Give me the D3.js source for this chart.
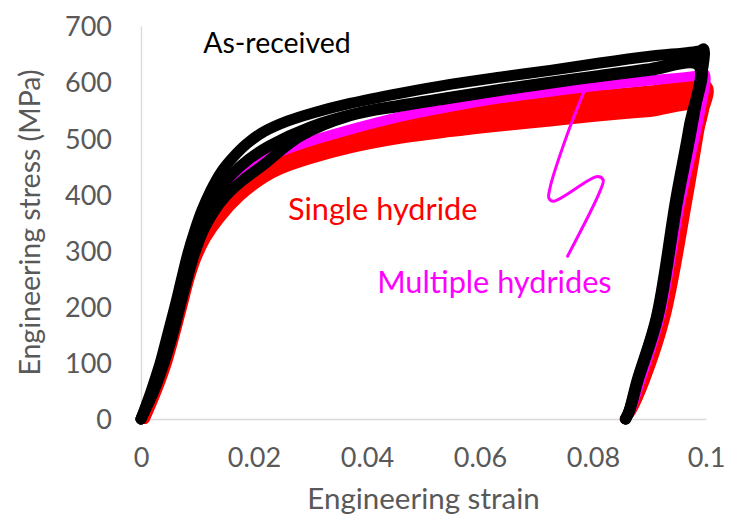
<!DOCTYPE html>
<html>
<head>
<meta charset="utf-8">
<script src="https://cdn.jsdelivr.net/npm/d3@7"></script>
<style>
  body { margin: 0; background: #fff; }
  text { font-family: Lato, "Open Sans", sans-serif; }
</style>
</head>
<body>
<div id="chart"></div>
<script>
// Tick values / labels
const xTicks = [0, 0.02, 0.04, 0.06, 0.08, 0.1];
const xTickLabels = ['0', '0.02', '0.04', '0.06', '0.08', '0.1'];
const yTicks = [0, 100, 200, 300, 400, 500, 600, 700];

// Curves: [engineering strain, engineering stress (MPa)], loading then unloading
const asReceived1 = [[0,0],[0.0018,50],[0.0034,100],[0.0047,150],[0.0060,200],[0.0072,250],[0.0083,295],
  [0.0095,335],[0.0108,372],[0.0124,408],[0.0142,440],[0.0162,465],[0.0187,490],[0.0218,512],[0.0260,531],
  [0.0304,545],[0.0370,562],[0.0458,580],[0.0547,596],[0.0635,609],[0.0724,621],[0.0812,634],[0.0901,646],
  [0.0989,656],[0.0996,659],[0.0977,531],[0.0950,389],[0.0915,181],[0.0880,69],[0.0865,15],[0.0858,0]];
const asReceived2 = [[0,0],[0.0020,50],[0.0037,100],[0.0051,150],[0.0064,200],[0.0077,250],[0.0089,295],
  [0.0102,335],[0.0117,372],[0.0136,405],[0.0160,435],[0.0190,462],[0.0228,487],[0.0299,520],[0.0388,546],
  [0.0458,559],[0.0547,573],[0.0635,587],[0.0724,600],[0.0812,612],[0.0901,624],[0.0989,634],
  [0.0972,520],[0.0948,389],[0.0913,181],[0.0879,69],[0.0864,15],[0.0857,0]];
const asReceived3 = [[0,0],[0.0023,50],[0.0041,100],[0.0056,150],[0.0069,200],[0.0082,250],[0.0095,295],
  [0.0110,335],[0.0128,368],[0.0150,397],[0.0180,425],[0.0216,452],[0.0281,503],[0.0370,540],[0.0458,557],
  [0.0547,571],[0.0635,585],[0.0724,598],[0.0812,610],[0.0901,621],[0.0986,630],
  [0.0970,520],[0.0946,389],[0.0912,181],[0.0878,69],[0.0864,15],[0.0858,0]];

const multipleHydrides = [[0,0],[0.0022,50],[0.0039,100],[0.0053,150],[0.0066,200],[0.0079,250],[0.0091,295],
  [0.0105,338],[0.0122,375],[0.0145,410],[0.0175,438],[0.0215,462],[0.0276,487],[0.0365,514],[0.0458,538],
  [0.0547,556],[0.0635,571],[0.0724,583],[0.0812,594],[0.0901,603],[0.0989,612],[0.0998,614],
  [0.0988,540],[0.0955,389],[0.0918,181],[0.0884,69],[0.0866,15],[0.0858,0]];

const singleHydride1 = [[0.0004,0],[0.0025,50],[0.0042,100],[0.0056,150],[0.0069,200],[0.0081,250],[0.0093,292],
  [0.0108,335],[0.0126,372],[0.0150,408],[0.0185,440],[0.0230,464],[0.0281,484],[0.0370,507],[0.0458,526],
  [0.0547,543],[0.0635,557],[0.0724,568],[0.0812,577],[0.0901,585],[0.1002,593],
  [0.0991,531],[0.0967,389],[0.0928,181],[0.0892,69],[0.0868,15],[0.0857,0]];
const singleHydride2 = [[0.0005,0],[0.0026,50],[0.0043,100],[0.0057,150],[0.0070,200],[0.0083,250],[0.0095,290],
  [0.0110,330],[0.0130,366],[0.0158,400],[0.0195,432],[0.0240,458],[0.0281,475],[0.0370,500],[0.0458,518],
  [0.0547,532],[0.0635,545],[0.0724,555],[0.0812,564],[0.0901,572],[0.0995,580],
  [0.0982,500],[0.0964,389],[0.0926,181],[0.0891,69],[0.0868,15],[0.0857,0]];
const singleHydride3 = [[0.0006,0],[0.0027,50],[0.0044,100],[0.0058,150],[0.0071,200],[0.0084,250],[0.0096,288],
  [0.0112,326],[0.0134,362],[0.0165,398],[0.0210,430],[0.0250,450],[0.0290,464],[0.0370,490],[0.0458,509],
  [0.0547,521],[0.0635,532],[0.0724,542],[0.0812,552],[0.0901,560],[0.0993,567],
  [0.0977,480],[0.0962,389],[0.0925,181],[0.0890,69],[0.0867,15],[0.0857,0]];
const singleHydride4 = [[0.0007,0],[0.0028,50],[0.0046,100],[0.0060,150],[0.0073,200],[0.0086,250],[0.0098,286],
  [0.0115,322],[0.0140,358],[0.0175,396],[0.0216,428],[0.0246,444],[0.0300,463],[0.0370,482],[0.0458,499],
  [0.0547,511],[0.0635,521],[0.0724,530],[0.0812,539],[0.0901,547],[0.0990,555],
  [0.0974,470],[0.0960,389],[0.0923,181],[0.0889,69],[0.0866,15],[0.0857,0]];

// Arrow from the "Multiple hydrides" label to its curve
const arrowPoints = [[0.0784,583],[0.0752,500],[0.0724,412],[0.0722,393],[0.0730,388],[0.0808,432],
  [0.0818,426],[0.0812,405],[0.0755,290]];

const labels = [
  { text: 'As-received', at: [0.0110, 652], color: '#000000', size: 28.5 },
  { text: 'Single hydride', at: [0.0260, 354], color: '#ff0000', size: 30.7 },
  { text: 'Multiple hydrides', at: [0.0418, 224], color: '#ff00ff', size: 30.7 }
];

const width = 729, height = 515;
const margin = { top: 26, right: 23, bottom: 96, left: 141 };

const svg = d3.select('#chart').append('svg')
  .attr('width', width)
  .attr('height', height);

const x = d3.scaleLinear().domain([0, 0.1]).range([margin.left, width - margin.right]);
const y = d3.scaleLinear().domain([0, 700]).range([height - margin.bottom, margin.top]);

const textColor = '#595959';
const axisColor = '#d9d9d9';

// y axis
const yAxis = svg.append('g')
  .attr('transform', `translate(${margin.left},0)`)
  .call(d3.axisLeft(y).tickValues(yTicks).tickSize(0).tickPadding(29));
yAxis.select('.domain').attr('stroke', axisColor).attr('stroke-width', 1.3);
yAxis.selectAll('text').attr('fill', textColor).style('font-size', '27px').attr('dy', '0.36em');

// x axis
const xAxis = svg.append('g')
  .attr('transform', `translate(0,${height - margin.bottom})`)
  .call(d3.axisBottom(x).tickValues(xTicks).tickSize(0).tickPadding(29)
    .tickFormat((d, i) => xTickLabels[i]));
xAxis.select('.domain').attr('stroke', axisColor).attr('stroke-width', 1.3);
xAxis.selectAll('text').attr('fill', textColor).style('font-size', '27px');

// axis titles
svg.append('text')
  .attr('x', (margin.left + width - margin.right) / 2)
  .attr('y', 509)
  .attr('text-anchor', 'middle')
  .attr('fill', textColor)
  .style('font-size', '29.5px')
  .text('Engineering strain');

svg.append('text')
  .attr('transform', `translate(40,${(margin.top + height - margin.bottom) / 2}) rotate(-90)`)
  .attr('text-anchor', 'middle')
  .attr('fill', textColor)
  .style('font-size', '28.5px')
  .text('Engineering stress (MPa)');

const line = d3.line()
  .x(d => x(d[0]))
  .y(d => y(d[1]))
  .curve(d3.curveCatmullRom.alpha(0.5));

const series = [
  { data: singleHydride4, color: '#ff0000', w: 10 },
  { data: singleHydride3, color: '#ff0000', w: 10 },
  { data: singleHydride2, color: '#ff0000', w: 10 },
  { data: singleHydride1, color: '#ff0000', w: 10 },
  { data: multipleHydrides, color: '#ff00ff', w: 10 },
  { data: asReceived3, color: '#000000', w: 11 },
  { data: asReceived2, color: '#000000', w: 11 },
  { data: asReceived1, color: '#000000', w: 11 }
];

svg.append('g').selectAll('path')
  .data(series)
  .enter()
  .append('path')
  .attr('d', d => line(d.data))
  .attr('fill', 'none')
  .attr('stroke', d => d.color)
  .attr('stroke-width', d => d.w)
  .attr('stroke-linejoin', 'round')
  .attr('stroke-linecap', 'round');

// annotation arrow
svg.append('path')
  .attr('d', line(arrowPoints))
  .attr('fill', 'none')
  .attr('stroke', '#ff00ff')
  .attr('stroke-width', 3)
  .attr('stroke-linecap', 'round');

svg.append('g').selectAll('text')
  .data(labels)
  .enter()
  .append('text')
  .attr('x', d => x(d.at[0]))
  .attr('y', d => y(d.at[1]))
  .attr('fill', d => d.color)
  .style('font-size', d => d.size + 'px')
  .text(d => d.text);
</script>
</body>
</html>
